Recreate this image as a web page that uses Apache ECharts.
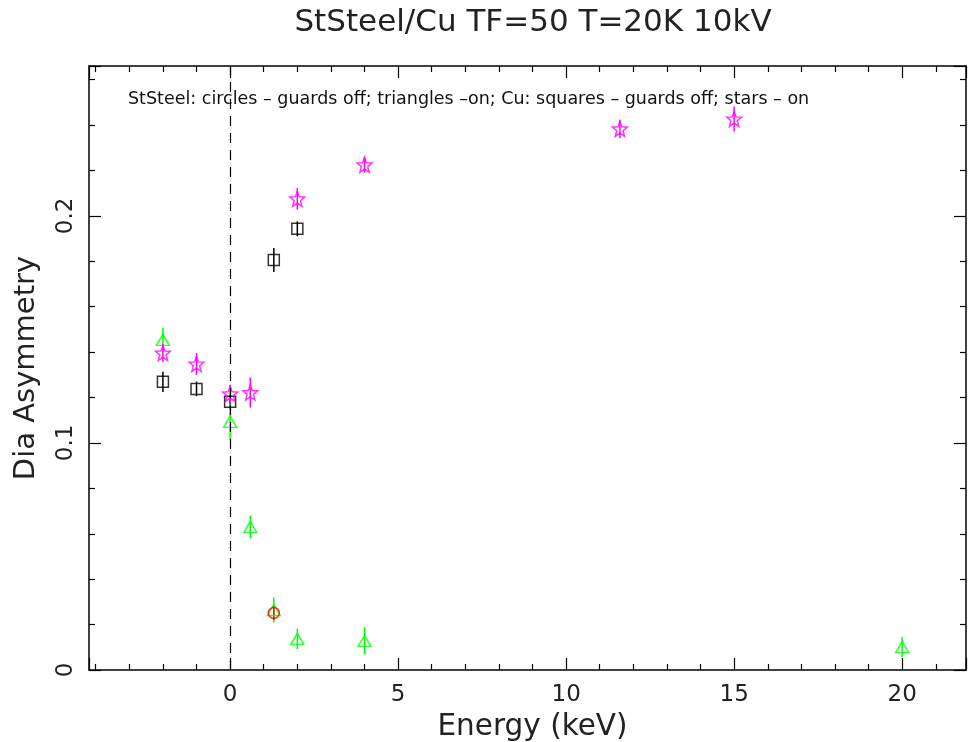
<!DOCTYPE html>
<html>
<head>
<meta charset="utf-8">
<script src="https://cdn.jsdelivr.net/npm/echarts@6/dist/echarts.min.js"></script>
<style>
html,body{margin:0;padding:0;background:#fff;}
#chart{width:968px;height:742px;}
</style>
</head>
<body>
<div id="chart"></div>
<script>
// ---- data ----
const titleText = 'StSteel/Cu TF=50 T=20K 10kV';
const noteText = 'StSteel: circles \u2013 guards off; triangles \u2013on; Cu: squares \u2013 guards off; stars \u2013 on';
const xName = 'Energy (keV)';
const yName = 'Dia Asymmetry';

// Cu, guards off (squares)
const squareX = [-2, -1, 0, 1.3, 2];
const squareY = [0.1269, 0.1238, 0.1181, 0.1806, 0.1943];
const squareErr = [0.0045, 0.0032, 0.003, 0.0053, 0.0033];

// Cu, guards on (stars)
const starX = [-2, -1, 0, 0.6, 2, 4, 11.6, 15];
const starY = [0.1396, 0.1348, 0.1216, 0.1222, 0.2075, 0.2225, 0.2383, 0.2427];
const starErr = [0.004, 0.0048, 0.004, 0.0066, 0.0048, 0.0035, 0.004, 0.0055];

// StSteel, guards on (triangles)
const triX = [-2, 0, 0.6, 1.3, 2, 4, 20];
const triY = [0.1454, 0.1093, 0.063, 0.0264, 0.0137, 0.0128, 0.0101];
const triErr = [0.0053, 0.008, 0.005, 0.0055, 0.0045, 0.006, 0.0044];

// StSteel, guards off (circles)
const circX = [1.3];
const circY = [0.0251];
const circErr = [0.003];

// ---- helpers ----
const FONT = 'DejaVu Sans';
function zip(xs, ys, es) { return xs.map((x, i) => [x, ys[i], es[i]]); }

function starPath() {
  const pts = [];
  for (let i = 0; i < 10; i++) {
    const r = i % 2 === 0 ? 50 : 21;
    const a = -Math.PI / 2 + i * Math.PI / 5;
    pts.push((50 + r * Math.cos(a)).toFixed(2) + ',' + (50 + r * Math.sin(a)).toFixed(2));
  }
  return 'path://M' + pts.join('L') + 'Z';
}

function errSeries(data, color) {
  return {
    type: 'custom',
    silent: true,
    z: 3,
    data: data,
    renderItem: function (params, api) {
      const x = api.value(0), y = api.value(1), e = api.value(2);
      const p1 = api.coord([x, y - e]);
      const p2 = api.coord([x, y + e]);
      return {
        type: 'line',
        shape: { x1: p1[0], y1: p1[1], x2: p2[0], y2: p2[1] },
        style: { stroke: color, lineWidth: 1.5 }
      };
    }
  };
}

function pointSeries(data, symbol, size, color) {
  return {
    type: 'scatter',
    z: 4,
    data: data.map(d => [d[0], d[1]]),
    symbol: symbol,
    symbolSize: size,
    itemStyle: { color: 'rgba(0,0,0,0)', borderColor: color, borderWidth: 1.5 },
    emphasis: { disabled: true }
  };
}

const sqData = zip(squareX, squareY, squareErr);
const stData = zip(starX, starY, starErr);
const trData = zip(triX, triY, triErr);
const ciData = zip(circX, circY, circErr);

const cBlack = '#000000', cMag = '#ff00ff', cGreen = '#00ff00', cRed = '#ff0000';

function xAxisDef(pos, showLabel) {
  return {
    type: 'value', position: pos, min: -4.2, max: 21.9, splitNumber: 5,
    axisLine: { show: true, onZero: false, lineStyle: { color: '#000', width: 1.5 } },
    axisTick: { show: true, inside: true, length: 12, lineStyle: { color: '#000', width: 1.2 } },
    minorTick: { show: true, splitNumber: 5, length: 6, lineStyle: { color: '#000', width: 1.2 } },
    splitLine: { show: false },
    axisLabel: { show: showLabel, showMinLabel: false, showMaxLabel: false, fontSize: 23, fontFamily: FONT, color: '#222', margin: 14 },
    name: showLabel ? xName : '', nameLocation: 'middle', nameGap: 34,
    nameTextStyle: { fontSize: 29.5, fontFamily: FONT, color: '#222', padding: [0, 0, 0, 10] }
  };
}
function yAxisDef(pos, showLabel) {
  return {
    type: 'value', position: pos, min: 0, max: 0.266, interval: 0.1,
    axisLine: { show: true, onZero: false, lineStyle: { color: '#000', width: 1.5 } },
    axisTick: { show: true, inside: true, length: 12, lineStyle: { color: '#000', width: 1.2 } },
    minorTick: { show: true, splitNumber: 5, length: 6, lineStyle: { color: '#000', width: 1.2 } },
    splitLine: { show: false },
    axisLabel: { show: showLabel, showMaxLabel: false, rotate: 90, fontSize: 23, fontFamily: FONT, color: '#222', margin: 11,
      formatter: v => (v === 0 ? '0' : String(v)) },
    name: showLabel ? yName : '', nameLocation: 'middle', nameGap: 48, nameRotate: 90,
    nameTextStyle: { fontSize: 29, fontFamily: FONT, color: '#222' }
  };
}

const chart = echarts.init(document.getElementById('chart'), null, { renderer: 'canvas' });
chart.setOption({
  backgroundColor: '#fff',
  animation: false,
  grid: { left: 89, right: 2, top: 66, bottom: 72, containLabel: false, outerBoundsMode: 'none' },
  xAxis: [xAxisDef('bottom', true), xAxisDef('top', false)],
  yAxis: [yAxisDef('left', true), yAxisDef('right', false)],
  graphic: [
    { type: 'text', x: 533, y: 23, style: { text: titleText, align: 'center', verticalAlign: 'middle', fontSize: 31, fontFamily: FONT, fill: '#222' } },
    { type: 'text', x: 128, y: 99, style: { text: noteText, align: 'left', verticalAlign: 'middle', fontSize: 17.5, fontFamily: FONT, fill: '#111' } }
  ],
  series: [
    {
      type: 'line', data: [], z: 2,
      markLine: {
        silent: true, symbol: ['none', 'none'], label: { show: false },
        lineStyle: { color: '#000', type: [10, 7], width: 1.2 },
        data: [{ xAxis: 0 }]
      }
    },
    errSeries(sqData, cBlack),
    errSeries(trData, cGreen),
    errSeries(stData, cMag),
    errSeries(ciData, cRed),
    pointSeries(sqData, 'rect', 11, cBlack),
    pointSeries(trData, 'triangle', [13, 11], cGreen),
    pointSeries(ciData, 'circle', 11, cRed),
    pointSeries(stData, starPath(), 15, cMag)
  ]
});
</script>
</body>
</html>
